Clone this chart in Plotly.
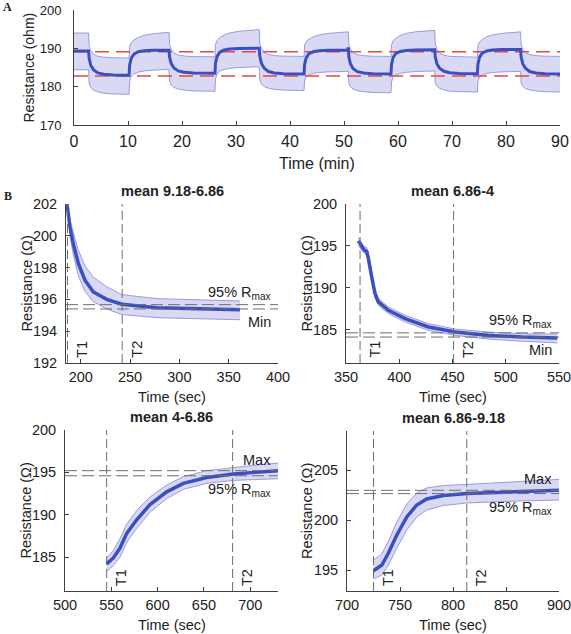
import plotly.graph_objects as go

W, H = 571, 634
FONT = "Liberation Sans"
MEAN_COLOR = "#3b4fc0"
EDGE_COLOR = "#8585dc"
FILL_COLOR = "rgba(120,120,215,0.28)"
AX_COLOR = "#404040"
DASH_COLOR = "#6e6e6e"

# ---------------- Panel A data (time in min) ----------------
A_time = [0,
          2.7, 2.8, 3.1, 3.6, 4.4, 5.5, 7.2,
          10.2, 10.3, 10.6, 11.1, 11.9, 13.0, 14.7,
          17.6, 17.7, 18.0, 18.5, 19.3, 20.4, 22.1,
          26.1, 26.2, 26.5, 27.0, 27.8, 28.9, 30.6,
          34.3, 34.4, 34.7, 35.2, 36.0, 37.1, 38.8,
          42.6, 42.7, 43.0, 43.5, 44.3, 45.4, 47.1,
          50.6, 50.8, 50.9, 51.2, 51.7, 52.5, 53.6, 55.3,
          58.7, 58.8, 59.1, 59.6, 60.4, 61.5, 63.2,
          66.8, 66.9, 67.2, 67.7, 68.5, 69.6, 71.3,
          74.7, 74.8, 75.1, 75.6, 76.4, 77.5, 79.2,
          82.7, 82.8, 83.1, 83.6, 84.4, 85.5, 87.2,
          90]
A_mean = [189.3,
          189.3, 187.4, 185.6, 184.45, 183.6, 183.25, 183.05,
          183.0, 185.6, 187.4, 188.5, 189.1, 189.35, 189.47,
          189.5, 187.7, 186.0, 184.9, 184.1, 183.75, 183.55,
          183.5, 186.1, 187.9, 189.0, 189.6, 189.85, 189.97,
          190.0, 188.0, 186.1, 184.85, 183.95, 183.55, 183.37,
          183.3, 185.8, 187.5, 188.6, 189.1, 189.4, 189.47,
          189.5, 190.2, 187.65, 185.9, 184.7, 183.9, 183.55, 183.36,
          183.3, 185.8, 187.6, 188.65, 189.2, 189.45, 189.57,
          189.6, 187.75, 186.0, 184.8, 184.0, 183.65, 183.46,
          183.4, 185.9, 187.7, 188.75, 189.3, 189.55, 189.67,
          189.7, 187.8, 186.0, 184.8, 183.95, 183.55, 183.36,
          183.3]
A_upper = [194.0,
           194.0, 190.75, 189.45, 188.5, 187.95, 187.7, 187.55,
           187.5, 190.5, 191.5, 192.2, 192.85, 193.4, 193.8,
           194.2, 191.0, 189.7, 188.8, 188.25, 188.0, 187.85,
           187.8, 191.0, 192.05, 192.8, 193.5, 194.05, 194.45,
           194.9, 191.4, 190.0, 188.95, 188.4, 188.1, 187.97,
           187.9, 190.8, 191.75, 192.4, 193.0, 193.5, 193.9,
           194.25, 194.3, 191.1, 189.8, 188.85, 188.35, 188.1, 187.95,
           187.9, 190.95, 192.0, 192.65, 193.35, 193.9, 194.3,
           194.7, 191.2, 189.8, 188.75, 188.2, 187.9, 187.77,
           187.7, 190.65, 191.65, 192.3, 193.0, 193.5, 193.9,
           194.3, 191.1, 189.8, 188.85, 188.35, 188.1, 187.95,
           187.9]
A_lower = [184.4,
           184.4, 180.9, 179.8, 179.1, 178.65, 178.3, 178.1,
           178.0, 181.25, 182.7, 183.35, 183.8, 184.1, 184.3,
           184.5, 181.35, 180.4, 179.8, 179.4, 179.1, 178.9,
           178.8, 182.0, 183.4, 184.05, 184.5, 184.8, 185.0,
           185.2, 181.8, 180.7, 180.05, 179.6, 179.3, 179.1,
           179.0, 181.5, 182.6, 183.1, 183.45, 183.7, 183.85,
           183.95, 184.0, 180.9, 179.95, 179.35, 178.95, 178.7, 178.5,
           178.4, 181.25, 182.5, 183.05, 183.45, 183.75, 183.95,
           184.1, 181.05, 180.15, 179.55, 179.15, 178.85, 178.7,
           178.6, 181.3, 182.5, 183.05, 183.4, 183.7, 183.85,
           184.0, 181.05, 180.1, 179.5, 179.15, 178.9, 178.7,
           178.6]
A_ref_levels = [189.1, 182.8]
A_xticks = [0, 10, 20, 30, 40, 50, 60, 70, 80, 90]
A_yticks = [170, 180, 190, 200]

# ---------------- Panel B data (time in sec) ----------------
B1_title = "mean 9.18-6.86"
B1_time = [186, 189, 192.4, 197.5, 204.3, 212.7, 226.3, 241.5, 277, 320, 361.5]
B1_mean = [202.0, 200.57, 199.5, 198.26, 197.2, 196.47, 196.0, 195.7, 195.48, 195.4, 195.35]
B1_upper = [202.0, 201.0, 200.2, 199.1, 198.1, 197.4, 196.8, 196.3, 196.05, 195.95, 195.9]
B1_lower = [202.0, 200.0, 198.8, 197.5, 196.5, 195.85, 195.4, 195.05, 194.85, 194.78, 194.72]
B1_T = [186.5, 242]
B1_levels = [195.67, 195.4]

B2_title = "mean 6.86-4"
B2_time = [361.6, 364.7, 367, 369.5, 371, 374.1, 377.2, 380.4, 389.8, 405.5, 427.5, 452.6, 484, 515.5, 548.5]
B2_mean = [195.6, 195.0, 194.5, 194.3, 193.5, 191.3, 189.3, 188.3, 187.3, 186.3, 185.3, 184.7, 184.3, 184.1, 184.0]
B2_upper = [196.0, 195.4, 194.9, 194.8, 194.0, 191.9, 189.8, 188.7, 187.7, 186.7, 185.7, 185.05, 184.7, 184.5, 184.45]
B2_lower = [195.0, 194.5, 194.1, 193.8, 193.0, 190.8, 188.8, 187.9, 186.9, 185.9, 184.9, 184.3, 183.85, 183.6, 183.4]
B2_T = [363.2, 451]
B2_levels = [184.6, 184.1]

B3_title = "mean 4-6.86"
B3_time = [545, 552.2, 559.4, 566.6, 577.4, 591.8, 609.8, 627.8, 653, 681.8, 705, 730]
B3_mean = [184.2, 184.9, 186.07, 187.8, 189.4, 191.2, 192.7, 193.7, 194.4, 194.8, 195.0, 195.2]
B3_upper = [184.9, 185.8, 187.2, 188.9, 190.5, 192.1, 193.5, 194.5, 195.2, 195.6, 195.85, 196.1]
B3_lower = [183.3, 184.0, 185.0, 186.7, 188.4, 190.3, 191.9, 193.0, 193.7, 194.05, 194.15, 194.25]
B3_T = [545, 681]
B3_levels = [195.2, 194.6]

B4_title = "mean 6.86-9.18"
B4_time = [725, 732.9, 739.1, 747, 756.4, 765.8, 775.2, 790.9, 813, 847.3, 900]
B4_mean = [194.93, 195.5, 196.7, 198.5, 200.3, 201.5, 202.1, 202.45, 202.65, 202.8, 202.97]
B4_upper = [196.0, 196.6, 197.9, 199.8, 201.6, 202.7, 203.2, 203.45, 203.56, 203.75, 204.06]
B4_lower = [194.1, 194.5, 195.5, 197.2, 199.0, 200.3, 201.0, 201.45, 201.7, 201.85, 202.0]
B4_T = [725, 813]
B4_levels = [202.97, 202.64]

fig = go.Figure()


def px_dom_x(a, b):
    return [a / W, b / W]


def px_dom_y(top, bottom):
    return [1 - bottom / H, 1 - top / H]


def add_band(t, up, lo, xa, ya):
    fig.add_trace(go.Scatter(x=t, y=lo, mode="lines", line=dict(color=EDGE_COLOR, width=0.8),
                             xaxis=xa, yaxis=ya, hoverinfo="skip"))
    fig.add_trace(go.Scatter(x=t, y=up, mode="lines", line=dict(color=EDGE_COLOR, width=0.8),
                             fill="tonexty", fillcolor=FILL_COLOR, xaxis=xa, yaxis=ya, hoverinfo="skip"))


# Panel A
add_band(A_time, A_upper, A_lower, "x", "y")
for lv in A_ref_levels:
    fig.add_trace(go.Scatter(x=[A_xticks[0], A_xticks[-1]], y=[lv, lv], mode="lines",
                             line=dict(color="#e8473c", width=1.6, dash="14px,7px"),
                             xaxis="x", yaxis="y"))
fig.add_trace(go.Scatter(x=A_time, y=A_mean, mode="lines", line=dict(color=MEAN_COLOR, width=3),
                         xaxis="x", yaxis="y"))

axis_common = dict(showgrid=False, zeroline=False, showline=True, linecolor=AX_COLOR, linewidth=1,
                   ticks="inside", ticklen=4, tickcolor=AX_COLOR, mirror=False, automargin=False,
                   ticklabeloverflow="allow")

layout = dict(
    width=W, height=H, margin=dict(l=0, r=0, t=0, b=0, pad=0),
    plot_bgcolor="white", paper_bgcolor="white", showlegend=False,
    font=dict(family=FONT, color="#222"),
)
layout["xaxis"] = dict(axis_common, domain=px_dom_x(74, 560), range=[0, 90], tickvals=A_xticks,
                       tickfont=dict(size=16), anchor="y", ticklabelstandoff=2)
layout["yaxis"] = dict(axis_common, domain=px_dom_y(10, 125), range=[170, 200], tickvals=A_yticks,
                       tickfont=dict(size=13), anchor="x", ticklabelstandoff=9)

annotations = []
shapes = []

annotations.append(dict(text="<b>A</b>", x=7.5 / W, y=1 - 7 / H, xref="paper", yref="paper",
                        xanchor="center", yanchor="middle", showarrow=False,
                        font=dict(family="Liberation Serif", size=12, color="#222")))
annotations.append(dict(text="<b>B</b>", x=7.5 / W, y=1 - 196 / H, xref="paper", yref="paper",
                        xanchor="center", yanchor="middle", showarrow=False,
                        font=dict(family="Liberation Serif", size=12, color="#222")))
annotations.append(dict(text="Time (min)", x=0.5, y=0, xref="x domain", yref="y domain",
                        xanchor="center", yanchor="middle", yshift=-38, showarrow=False,
                        font=dict(size=16)))
annotations.append(dict(text="Resistance (ohm)", x=0, y=0.5, xref="x domain", yref="y domain",
                        xanchor="center", yanchor="middle", textangle=-90, xshift=-46,
                        showarrow=False, font=dict(size=14)))

panels = [
    (2, B1_title, B1_time, B1_mean, B1_upper, B1_lower, B1_T, B1_levels, (66, 278), (204, 363),
     [185, 400], [200, 250, 300, 350, 400], [192, 202], [192, 194, 196, 198, 200, 202],
     ["95% R<sub>max</sub>", "Min"]),
    (3, B2_title, B2_time, B2_mean, B2_upper, B2_lower, B2_T, B2_levels, (346, 559), (204, 363),
     [350, 550], [350, 400, 450, 500, 550], [181, 200], [185, 190, 195, 200],
     ["95% R<sub>max</sub>", "Min"]),
    (4, B3_title, B3_time, B3_mean, B3_upper, B3_lower, B3_T, B3_levels, (65, 278), (430, 591),
     [500, 730], [500, 550, 600, 650, 700], [181, 200], [185, 190, 195, 200],
     ["Max", "95% R<sub>max</sub>"]),
    (5, B4_title, B4_time, B4_mean, B4_upper, B4_lower, B4_T, B4_levels, (347, 559), (431, 591),
     [700, 900], [700, 750, 800, 850, 900], [192.9, 208.9], [195, 200, 205],
     ["Max", "95% R<sub>max</sub>"]),
]

BFS = 14.5
for (k, title, t, mean, up, lo, T, levels, xpx, ypx, xr, xt, yr, yt, labels) in panels:
    xa, ya = f"x{k}", f"y{k}"
    add_band(t, up, lo, xa, ya)
    fig.add_trace(go.Scatter(x=t, y=mean, mode="lines", line=dict(color=MEAN_COLOR, width=3.5),
                             xaxis=xa, yaxis=ya))
    layout[f"xaxis{k}"] = dict(axis_common, domain=px_dom_x(*xpx), range=xr, tickvals=xt,
                               tickfont=dict(size=BFS), anchor=ya, ticklabelstandoff=1)
    layout[f"yaxis{k}"] = dict(axis_common, domain=px_dom_y(*ypx), range=yr, tickvals=yt,
                               tickfont=dict(size=BFS), anchor=xa, ticklabelstandoff=5)
    for tv in T:
        shapes.append(dict(type="line", xref=xa, yref=f"{ya} domain", x0=tv, x1=tv, y0=0, y1=1,
                           line=dict(color=DASH_COLOR, width=1, dash="9px,4px")))
    for lv in levels:
        shapes.append(dict(type="line", xref=f"{xa} domain", yref=ya, x0=0, x1=1, y0=lv, y1=lv,
                           line=dict(color=DASH_COLOR, width=1, dash="12px,5px")))
    for i, tv in enumerate(T):
        annotations.append(dict(text=f"T{i+1}", x=tv, y=0, xref=xa, yref=f"{ya} domain",
                                xanchor="left", yanchor="bottom", xshift=4, yshift=3, textangle=-90,
                                showarrow=False, font=dict(size=BFS)))
    annotations.append(dict(text=labels[0], x=1, y=levels[0], xref=f"{xa} domain", yref=ya,
                            xanchor="right", yanchor="bottom", xshift=-5, yshift=1,
                            showarrow=False, font=dict(size=BFS)))
    annotations.append(dict(text=labels[1], x=1, y=levels[1], xref=f"{xa} domain", yref=ya,
                            xanchor="right", yanchor="top", xshift=-5, yshift=-3,
                            showarrow=False, font=dict(size=BFS)))
    annotations.append(dict(text=f"<b>{title}</b>", x=0.5, y=1, xref=f"{xa} domain", yref=f"{ya} domain",
                            xanchor="center", yanchor="bottom", yshift=3, showarrow=False,
                            font=dict(size=BFS)))
    annotations.append(dict(text="Time (sec)", x=0.5, y=0, xref=f"{xa} domain", yref=f"{ya} domain",
                            xanchor="center", yanchor="middle", yshift=-34, showarrow=False,
                            font=dict(size=BFS)))
    annotations.append(dict(text="Resistance (\u03a9)", x=0, y=0.5, xref=f"{xa} domain",
                            yref=f"{ya} domain", xanchor="center", yanchor="middle",
                            textangle=-90, xshift=-40, showarrow=False, font=dict(size=BFS)))

layout["annotations"] = annotations
layout["shapes"] = shapes
fig.update_layout(**layout)
fig.write_html("out.html", config={"displayModeBar": False},
               post_script="document.body.style.margin = '0px';")
